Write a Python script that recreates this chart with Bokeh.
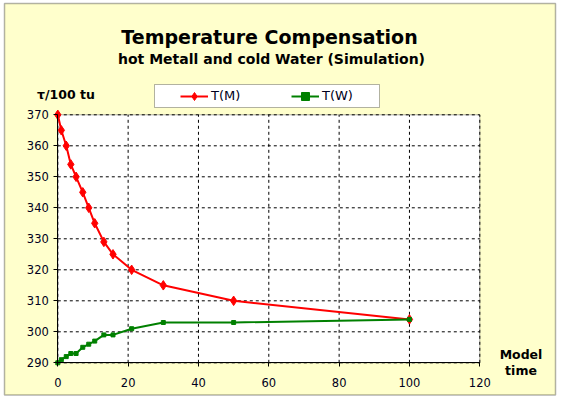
from bokeh.plotting import figure
from bokeh.models import (Range1d, FixedTicker, Label, Legend, LegendItem,
                          BoxAnnotation, ColumnDataSource)
from bokeh.embed import file_html
from bokeh.resources import INLINE

# ---- data ----
model_time = [0, 1, 2.4, 3.7, 5.2, 7.1, 8.8, 10.5, 13.1, 15.7, 21, 30, 50, 100]
t_metal = [370, 365, 360, 354, 350, 345, 340, 335, 329, 325, 320, 315, 310, 304]
t_water = [290, 291, 292, 293, 293, 295, 296, 297, 299, 299, 301, 303, 303, 304]
x_ticks = [0, 20, 40, 60, 80, 100, 120]
y_ticks = [290, 300, 310, 320, 330, 340, 350, 360, 370]

title_text = "Temperature Compensation"
subtitle_text = "hot Metall and cold Water (Simulation)"
y_title = "τ/100 tu"
x_title_1 = "Model"
x_title_2 = "time"
series_names = ["T(M)", "T(W)"]

FONT = "DejaVu Sans"
X_MIN, X_MAX = x_ticks[0], x_ticks[-1]
Y_MIN, Y_MAX = y_ticks[0], y_ticks[-1]

# ---- layout geometry (page pixels) ----
PX_LEFT, PX_RIGHT = 57.3, 479.3     # plot area left/right
PX_TOP, PX_BOTTOM = 114.3, 362.3    # plot area top/bottom
W, H = 561, 399
sx = (PX_RIGHT - PX_LEFT) / (X_MAX - X_MIN)
sy = (PX_BOTTOM - PX_TOP) / (Y_MAX - Y_MIN)

def dx(px):
    return X_MIN + (px - PX_LEFT) / sx

def dy(py):
    return Y_MAX - (py - PX_TOP) / sy

src = ColumnDataSource(dict(x=model_time, m=t_metal, w=t_water))

p = figure(width=W, height=H, output_backend="svg", toolbar_location=None,
           x_range=Range1d(dx(0), dx(W)), y_range=Range1d(dy(H), dy(0)),
           min_border=0, min_border_left=0, min_border_right=0,
           min_border_top=0, min_border_bottom=0)
p.title.visible = False
p.background_fill_color = "white"
p.border_fill_color = "white"
p.outline_line_color = None
p.xgrid.visible = False
p.ygrid.visible = False

# chart area (light yellow with black border)
p.add_layout(BoxAnnotation(left=dx(4), right=dx(555), top=dy(3), bottom=dy(394.5),
                           fill_color="#FFFFCC", fill_alpha=1,
                           line_color="black", line_width=1.5, level="image"))
# plot area (white, black outline)
p.add_layout(BoxAnnotation(left=X_MIN, right=X_MAX, bottom=Y_MIN, top=Y_MAX,
                           fill_color="white", fill_alpha=1,
                           line_color="black", line_width=1, level="underlay"))

# dashed gridlines at the tick values
p.segment(x0=x_ticks, x1=x_ticks, y0=[Y_MIN] * len(x_ticks), y1=[Y_MAX] * len(x_ticks),
          line_color="black", line_width=1, line_dash="3 3")
p.segment(x0=[X_MIN] * len(y_ticks), x1=[X_MAX] * len(y_ticks), y0=y_ticks, y1=y_ticks,
          line_color="black", line_width=1, line_dash="3 3")

# axes fixed at the plot-area edges
xa, ya = p.xaxis[0], p.yaxis[0]
xa.fixed_location = Y_MIN
ya.fixed_location = X_MIN
xa.bounds = (X_MIN, X_MAX)
ya.bounds = (Y_MIN, Y_MAX)
xa.ticker = FixedTicker(ticks=x_ticks)
ya.ticker = FixedTicker(ticks=y_ticks)
for ax in (xa, ya):
    ax.axis_line_color = "black"
    ax.axis_line_width = 1
    ax.major_tick_line_color = "black"
    ax.major_tick_out = 4
    ax.major_tick_in = 0
    ax.minor_tick_line_color = None
    ax.major_label_text_font = FONT
    ax.major_label_text_font_size = "11.5px"
    ax.major_label_text_color = "#000020"
xa.major_label_standoff = 11
ya.major_label_standoff = 5

# series
lm = p.line("x", "m", source=src, line_color="#FF0000", line_width=2)
sm = p.scatter("x", "m", source=src, marker="diamond", size=9.5,
               fill_color="#FF0000", line_color="#FF0000")
lw = p.line("x", "w", source=src, line_color="#008000", line_width=2)
sw = p.scatter("x", "w", source=src, marker="square", size=4,
               fill_color="#008000", line_color="#008000")

# legend box + legend
p.add_layout(BoxAnnotation(left=dx(154), right=dx(379), top=dy(84), bottom=dy(107),
                           fill_color="white", fill_alpha=1,
                           line_color="black", line_width=1))
legend = Legend(items=[LegendItem(label=series_names[0], renderers=[lm, sm]),
                       LegendItem(label=series_names[1], renderers=[lw, sw])],
                location=(180, H - 105.7), orientation="horizontal",
                padding=0, margin=0, spacing=0, glyph_width=28, glyph_height=20,
                label_height=20, label_width=80, label_standoff=3,
                border_line_alpha=0, background_fill_alpha=0,
                label_text_font=FONT, label_text_font_size="13px",
                label_text_color="#000020")
p.add_layout(legend, "center")

def add_text(txt, px, py_base, size, align="center"):
    p.add_layout(Label(x=dx(px), y=dy(py_base), text=txt, text_font=FONT,
                       text_font_size=size, text_font_style="bold",
                       text_align=align, text_baseline="alphabetic",
                       text_color="black"))

add_text(title_text, 269, 36, "19px")
add_text(subtitle_text, 271, 58.7, "14px")
add_text(y_title, 36.5, 94, "12.5px", align="left")
add_text(x_title_1, 520.5, 354, "12.5px")
add_text(x_title_2, 520.5, 370, "12.5px")

open("out.html", "w").write(file_html(p, INLINE))
